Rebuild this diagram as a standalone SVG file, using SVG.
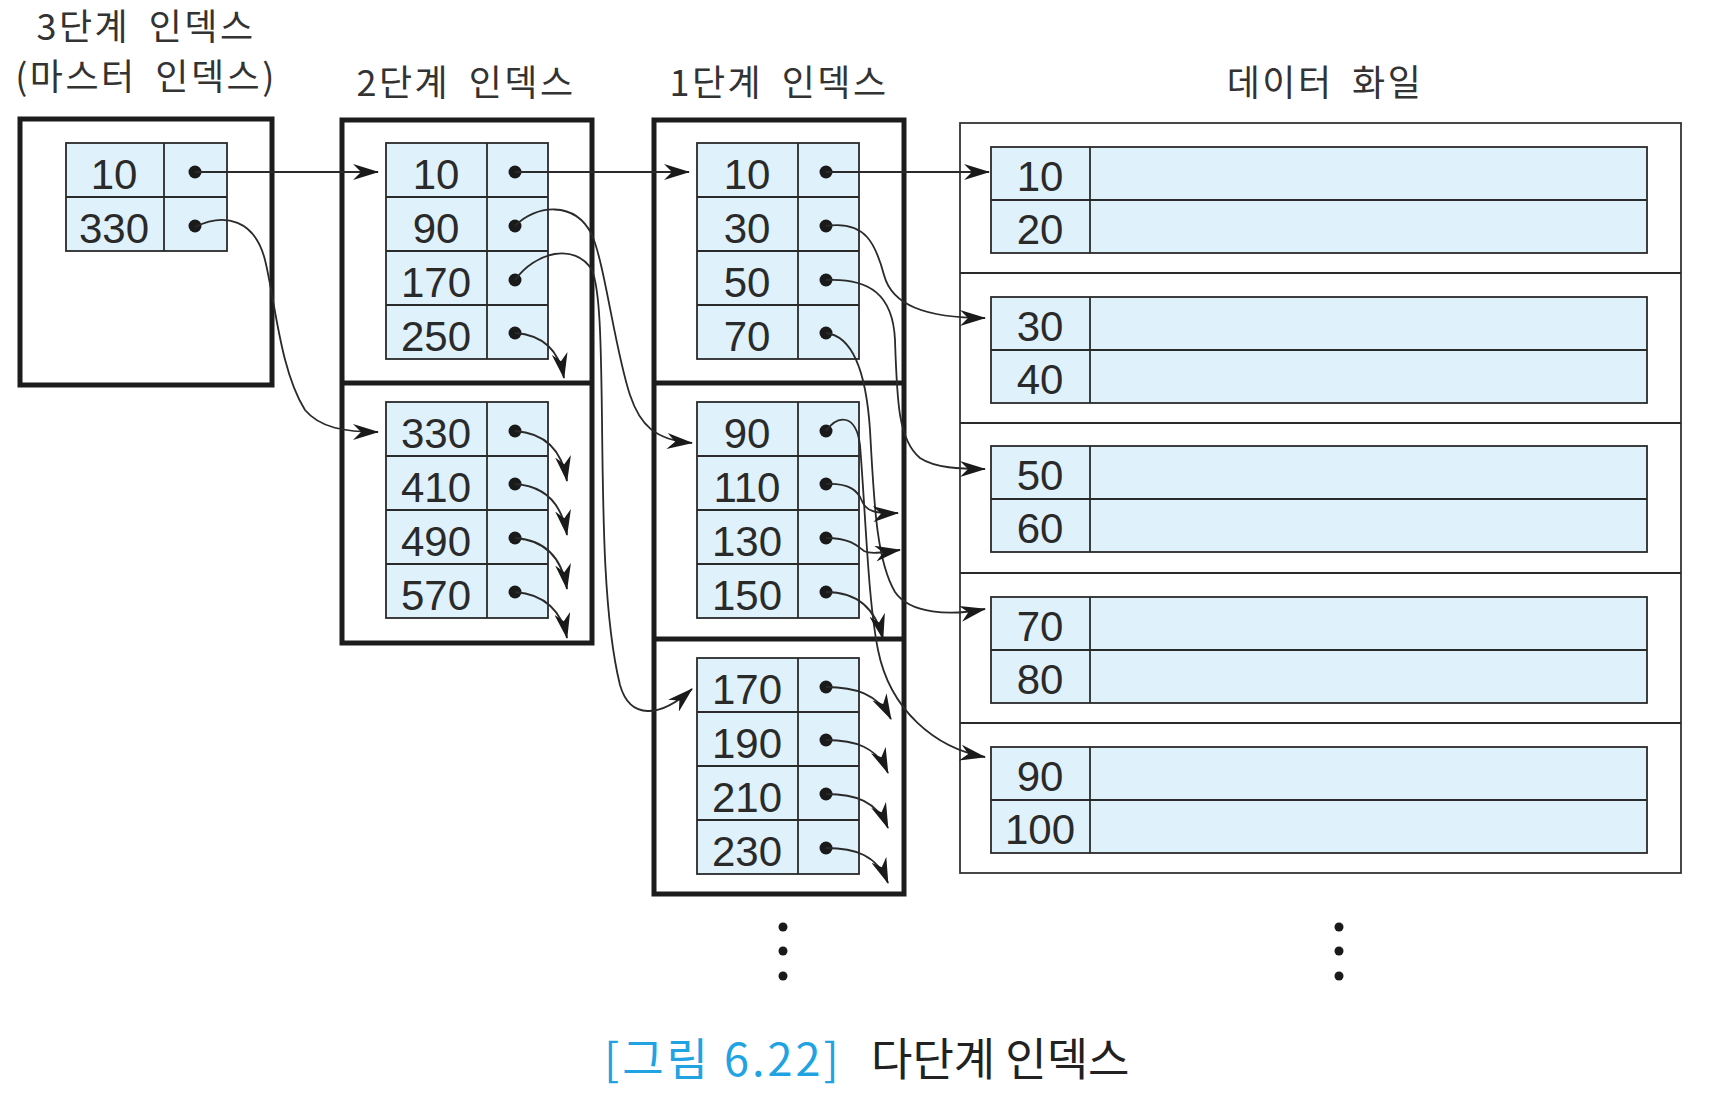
<svg xmlns="http://www.w3.org/2000/svg" width="1714" height="1095" viewBox="0 0 1714 1095">
<style>
.box{fill:none;stroke:#1c1c1c;stroke-width:5}
.tbl{fill:#dff1fb;stroke:#2a2a2a;stroke-width:1.8}
.ln{stroke:#2a2a2a;stroke-width:1.8}
.dfile{fill:#fff;stroke:#333;stroke-width:1.8}
.num{font-family:"Liberation Sans",Arial,sans-serif;font-size:42px;fill:#2a2a2a;text-anchor:middle}
.ttl{font-family:"Noto Sans CJK KR","Noto Sans",sans-serif;font-size:36px;fill:#333;text-anchor:middle;letter-spacing:2.5px;word-spacing:8px}
.dot{fill:#1a1a1a}
.con{fill:none;stroke:#2a2a2a;stroke-width:1.8;marker-end:url(#ah)}
</style>
<defs>
<marker id="ah" markerUnits="userSpaceOnUse" viewBox="0 0 26 16" markerWidth="26" markerHeight="16" refX="25" refY="8" orient="auto">
<path d="M0,0 L26,8 L0,16 L8,8 z" fill="#1a1a1a"/>
</marker>
</defs>
<rect width="1714" height="1095" fill="#fff"/>

<g id="titles">
<text class="ttl" x="146" y="40">3단계 인덱스</text>
<text class="ttl" x="146" y="90">(마스터 인덱스)</text>
<text class="ttl" x="466" y="96">2단계 인덱스</text>
<text class="ttl" x="779" y="96">1단계 인덱스</text>
<text class="ttl" x="1325" y="96">데이터 화일</text>
</g>

<g id="level3">
<rect class="box" x="20" y="119" width="252" height="266"/>
<rect class="tbl" x="66" y="143" width="161" height="108"/>
<line class="ln" x1="164" y1="143" x2="164" y2="251"/>
<line class="ln" x1="66" y1="197" x2="227" y2="197"/>
<text class="num" x="114" y="189">10</text>
<text class="num" x="114" y="243">330</text>
<circle class="dot" cx="195" cy="172" r="6.5"/>
<circle class="dot" cx="195" cy="226" r="6.5"/>
</g>

<g id="level2">
<rect class="box" x="342" y="120" width="250" height="523"/>
<line class="box" x1="342" y1="383" x2="592" y2="383"/>
<g id="level2-a">
<rect class="tbl" x="386" y="143" width="162" height="216"/>
<line class="ln" x1="487" y1="143" x2="487" y2="359"/>
<line class="ln" x1="386" y1="197" x2="548" y2="197"/>
<line class="ln" x1="386" y1="251" x2="548" y2="251"/>
<line class="ln" x1="386" y1="305" x2="548" y2="305"/>
<text class="num" x="436" y="189">10</text>
<text class="num" x="436" y="243">90</text>
<text class="num" x="436" y="297">170</text>
<text class="num" x="436" y="351">250</text>
<circle class="dot" cx="515" cy="172" r="6.5"/>
<circle class="dot" cx="515" cy="226" r="6.5"/>
<circle class="dot" cx="515" cy="280" r="6.5"/>
<circle class="dot" cx="515" cy="333" r="6.5"/>
</g>
<g id="level2-b">
<rect class="tbl" x="386" y="402" width="162" height="216"/>
<line class="ln" x1="487" y1="402" x2="487" y2="618"/>
<line class="ln" x1="386" y1="456" x2="548" y2="456"/>
<line class="ln" x1="386" y1="510" x2="548" y2="510"/>
<line class="ln" x1="386" y1="564" x2="548" y2="564"/>
<text class="num" x="436" y="448">330</text>
<text class="num" x="436" y="502">410</text>
<text class="num" x="436" y="556">490</text>
<text class="num" x="436" y="610">570</text>
<circle class="dot" cx="515" cy="431" r="6.5"/>
<circle class="dot" cx="515" cy="484" r="6.5"/>
<circle class="dot" cx="515" cy="538" r="6.5"/>
<circle class="dot" cx="515" cy="592" r="6.5"/>
</g>
</g>

<g id="level1">
<rect class="box" x="654" y="120" width="250" height="774"/>
<line class="box" x1="654" y1="383" x2="904" y2="383"/>
<line class="box" x1="654" y1="639" x2="904" y2="639"/>
<g id="level1-a">
<rect class="tbl" x="697" y="143" width="162" height="216"/>
<line class="ln" x1="798" y1="143" x2="798" y2="359"/>
<line class="ln" x1="697" y1="197" x2="859" y2="197"/>
<line class="ln" x1="697" y1="251" x2="859" y2="251"/>
<line class="ln" x1="697" y1="305" x2="859" y2="305"/>
<text class="num" x="747" y="189">10</text>
<text class="num" x="747" y="243">30</text>
<text class="num" x="747" y="297">50</text>
<text class="num" x="747" y="351">70</text>
<circle class="dot" cx="826" cy="172" r="6.5"/>
<circle class="dot" cx="826" cy="226" r="6.5"/>
<circle class="dot" cx="826" cy="280" r="6.5"/>
<circle class="dot" cx="826" cy="333" r="6.5"/>
</g>
<g id="level1-b">
<rect class="tbl" x="697" y="402" width="162" height="216"/>
<line class="ln" x1="798" y1="402" x2="798" y2="618"/>
<line class="ln" x1="697" y1="456" x2="859" y2="456"/>
<line class="ln" x1="697" y1="510" x2="859" y2="510"/>
<line class="ln" x1="697" y1="564" x2="859" y2="564"/>
<text class="num" x="747" y="448">90</text>
<text class="num" x="747" y="502">110</text>
<text class="num" x="747" y="556">130</text>
<text class="num" x="747" y="610">150</text>
<circle class="dot" cx="826" cy="431" r="6.5"/>
<circle class="dot" cx="826" cy="484" r="6.5"/>
<circle class="dot" cx="826" cy="538" r="6.5"/>
<circle class="dot" cx="826" cy="592" r="6.5"/>
</g>
<g id="level1-c">
<rect class="tbl" x="697" y="658" width="162" height="216"/>
<line class="ln" x1="798" y1="658" x2="798" y2="874"/>
<line class="ln" x1="697" y1="712" x2="859" y2="712"/>
<line class="ln" x1="697" y1="766" x2="859" y2="766"/>
<line class="ln" x1="697" y1="820" x2="859" y2="820"/>
<text class="num" x="747" y="704">170</text>
<text class="num" x="747" y="758">190</text>
<text class="num" x="747" y="812">210</text>
<text class="num" x="747" y="866">230</text>
<circle class="dot" cx="826" cy="687" r="6.5"/>
<circle class="dot" cx="826" cy="740" r="6.5"/>
<circle class="dot" cx="826" cy="794" r="6.5"/>
<circle class="dot" cx="826" cy="848" r="6.5"/>
</g>
</g>

<g id="datafile">
<rect class="dfile" x="960" y="123" width="721" height="750"/>
<line class="ln" x1="960" y1="273" x2="1681" y2="273"/>
<line class="ln" x1="960" y1="423" x2="1681" y2="423"/>
<line class="ln" x1="960" y1="573" x2="1681" y2="573"/>
<line class="ln" x1="960" y1="723" x2="1681" y2="723"/>
<g id="block1">
<rect class="tbl" x="991" y="147" width="656" height="106"/>
<line class="ln" x1="1090" y1="147" x2="1090" y2="253"/>
<line class="ln" x1="991" y1="200" x2="1647" y2="200"/>
<text class="num" x="1040" y="191">10</text>
<text class="num" x="1040" y="244">20</text>
</g>
<g id="block2">
<rect class="tbl" x="991" y="297" width="656" height="106"/>
<line class="ln" x1="1090" y1="297" x2="1090" y2="403"/>
<line class="ln" x1="991" y1="350" x2="1647" y2="350"/>
<text class="num" x="1040" y="341">30</text>
<text class="num" x="1040" y="394">40</text>
</g>
<g id="block3">
<rect class="tbl" x="991" y="446" width="656" height="106"/>
<line class="ln" x1="1090" y1="446" x2="1090" y2="552"/>
<line class="ln" x1="991" y1="499" x2="1647" y2="499"/>
<text class="num" x="1040" y="490">50</text>
<text class="num" x="1040" y="543">60</text>
</g>
<g id="block4">
<rect class="tbl" x="991" y="597" width="656" height="106"/>
<line class="ln" x1="1090" y1="597" x2="1090" y2="703"/>
<line class="ln" x1="991" y1="650" x2="1647" y2="650"/>
<text class="num" x="1040" y="641">70</text>
<text class="num" x="1040" y="694">80</text>
</g>
<g id="block5">
<rect class="tbl" x="991" y="747" width="656" height="106"/>
<line class="ln" x1="1090" y1="747" x2="1090" y2="853"/>
<line class="ln" x1="991" y1="800" x2="1647" y2="800"/>
<text class="num" x="1040" y="791">90</text>
<text class="num" x="1040" y="844">100</text>
</g>
</g>

<g id="connectors">
<path class="con" d="M195,172 H378"/>
<path class="con" d="M195,227 C225,212 255,220 265,260 C275,300 280,370 305,410 C320,428 345,432 378,432"/>
<path class="con" d="M515,172 H689"/>
<path class="con" d="M515,226 C535,205 575,200 592,235 C605,265 615,350 630,395 C640,425 655,440 692,443"/>
<path class="con" d="M515,280 C535,252 575,242 592,270 C600,290 601,340 602,420 C603,520 604,620 620,685 C630,720 660,718 692,689"/>
<path class="con" d="M515,333 C543,335 559,350 564,378"/>
<path class="con" d="M515,431 C545,433 562,450 567,481"/>
<path class="con" d="M515,484 C545,486 562,504 567,535"/>
<path class="con" d="M515,538 C545,540 562,558 567,589"/>
<path class="con" d="M515,592 C545,594 562,612 567,638"/>
<path class="con" d="M826,172 H989"/>
<path class="con" d="M826,226 C866,220 876,245 884,275 C892,305 925,318 985,318"/>
<path class="con" d="M826,280 C870,278 893,295 895,340 C897,400 898,440 920,458 C935,468 960,469 985,469"/>
<path class="con" d="M826,333 C852,336 866,370 870,430 C874,500 876,560 895,592 C910,614 950,616 985,609"/>
<path class="con" d="M826,431 C838,414 856,414 860,445 C866,520 868,600 878,650 C890,710 935,748 985,757"/>
<path class="con" d="M826,484 C850,483 858,491 862,501 C866,511 875,514 898,513"/>
<path class="con" d="M826,538 C850,538 858,546 864,551 C870,554 880,553 900,550"/>
<path class="con" d="M826,592 C855,592 875,606 883,639"/>
<path class="con" d="M826,687 C855,687 878,694 891,719"/>
<path class="con" d="M826,740 C855,740 877,747 888,773"/>
<path class="con" d="M826,794 C855,794 877,801 888,828"/>
<path class="con" d="M826,848 C855,848 877,855 888,883"/>
</g>

<g id="ellipsis">
<circle class="dot" cx="783" cy="927" r="4.5"/>
<circle class="dot" cx="783" cy="951" r="4.5"/>
<circle class="dot" cx="783" cy="976" r="4.5"/>
<circle class="dot" cx="1339" cy="927" r="4.5"/>
<circle class="dot" cx="1339" cy="951" r="4.5"/>
<circle class="dot" cx="1339" cy="976" r="4.5"/>
</g>

<g id="caption" font-family="'Noto Sans CJK KR','Noto Sans',sans-serif" font-size="45">
<text x="604" y="1076" fill="#1fa3e3" letter-spacing="3">[그림 6.22]</text>
<text x="871" y="1076" fill="#222">다단계 인덱스</text>
</g>
</svg>
